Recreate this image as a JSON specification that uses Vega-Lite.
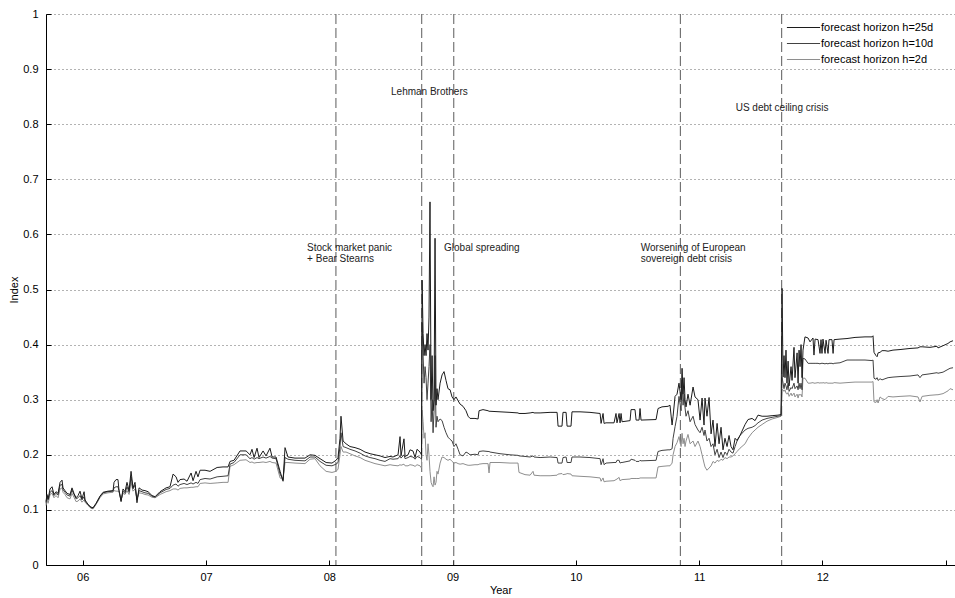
{
  "$schema": "https://vega.github.io/schema/vega-lite/v6.json",
  "width": 909,
  "height": 551,
  "autosize": {"type": "none"},
  "padding": {"left": 46, "top": 14, "right": 0, "bottom": 33},
  "background": "white",
  "config": {
    "view": {"stroke": null},
    "font": "Liberation Sans",
    "axis": {
      "domainColor": "#000",
      "tickColor": "#000",
      "labelColor": "#000",
      "titleColor": "#000",
      "labelFontSize": 11,
      "titleFontSize": 11,
      "titleFontWeight": "normal",
      "tickSize": -5,
      "domainWidth": 1,
      "tickWidth": 1
    }
  },
  "layer": [
    {
      "data": {
        "values": [
          {"t": 2008.054}, {"t": 2008.750}, {"t": 2009.010}, {"t": 2010.848}, {"t": 2011.670}
        ]
      },
      "mark": {"type": "rule", "color": "#5a5a5a", "strokeWidth": 1, "strokeDash": [10, 4]},
      "encoding": {
        "x": {"field": "t", "type": "quantitative", "title": "Year",
              "scale": {"domain": [2005.702, 2013.076], "nice": false, "zero": false}}
      }
    },
    {
      "data": {
        "values": [
          {"t":2005.702,"h25":0.115,"h10":0.112,"h2":0.108},
          {"t":2005.710,"h25":0.128,"h10":0.125,"h2":0.120},
          {"t":2005.719,"h25":0.120,"h10":0.118,"h2":0.112},
          {"t":2005.735,"h25":0.138,"h10":0.132,"h2":0.128},
          {"t":2005.751,"h25":0.142,"h10":0.135,"h2":0.130},
          {"t":2005.767,"h25":0.128,"h10":0.126,"h2":0.122},
          {"t":2005.783,"h25":0.133,"h10":0.130,"h2":0.126},
          {"t":2005.800,"h25":0.130,"h10":0.127,"h2":0.122},
          {"t":2005.816,"h25":0.150,"h10":0.145,"h2":0.138},
          {"t":2005.832,"h25":0.154,"h10":0.146,"h2":0.140},
          {"t":2005.840,"h25":0.140,"h10":0.137,"h2":0.132},
          {"t":2005.856,"h25":0.135,"h10":0.132,"h2":0.128},
          {"t":2005.873,"h25":0.130,"h10":0.127,"h2":0.122},
          {"t":2005.897,"h25":0.128,"h10":0.125,"h2":0.120},
          {"t":2005.913,"h25":0.140,"h10":0.136,"h2":0.130},
          {"t":2005.929,"h25":0.130,"h10":0.128,"h2":0.123},
          {"t":2005.946,"h25":0.122,"h10":0.120,"h2":0.115},
          {"t":2005.962,"h25":0.126,"h10":0.122,"h2":0.116},
          {"t":2005.978,"h25":0.134,"h10":0.126,"h2":0.120},
          {"t":2005.994,"h25":0.120,"h10":0.118,"h2":0.114},
          {"t":2006.011,"h25":0.133,"h10":0.124,"h2":0.118},
          {"t":2006.019,"h25":0.118,"h10":0.116,"h2":0.114},
          {"t":2006.043,"h25":0.110,"h10":0.109,"h2":0.108},
          {"t":2006.067,"h25":0.105,"h10":0.104,"h2":0.103},
          {"t":2006.084,"h25":0.104,"h10":0.103,"h2":0.102},
          {"t":2006.108,"h25":0.112,"h10":0.111,"h2":0.110},
          {"t":2006.140,"h25":0.125,"h10":0.124,"h2":0.122},
          {"t":2006.165,"h25":0.132,"h10":0.131,"h2":0.129},
          {"t":2006.205,"h25":0.134,"h10":0.133,"h2":0.131},
          {"t":2006.246,"h25":0.135,"h10":0.134,"h2":0.132},
          {"t":2006.254,"h25":0.150,"h10":0.140,"h2":0.135},
          {"t":2006.270,"h25":0.155,"h10":0.142,"h2":0.134},
          {"t":2006.286,"h25":0.155,"h10":0.142,"h2":0.134},
          {"t":2006.294,"h25":0.136,"h10":0.135,"h2":0.133},
          {"t":2006.311,"h25":0.115,"h10":0.117,"h2":0.118},
          {"t":2006.327,"h25":0.138,"h10":0.134,"h2":0.130},
          {"t":2006.343,"h25":0.133,"h10":0.130,"h2":0.128},
          {"t":2006.359,"h25":0.150,"h10":0.142,"h2":0.135},
          {"t":2006.376,"h25":0.135,"h10":0.132,"h2":0.128},
          {"t":2006.392,"h25":0.170,"h10":0.160,"h2":0.150},
          {"t":2006.408,"h25":0.140,"h10":0.138,"h2":0.134},
          {"t":2006.424,"h25":0.150,"h10":0.145,"h2":0.138},
          {"t":2006.440,"h25":0.113,"h10":0.118,"h2":0.120},
          {"t":2006.457,"h25":0.140,"h10":0.135,"h2":0.131},
          {"t":2006.481,"h25":0.136,"h10":0.133,"h2":0.130},
          {"t":2006.505,"h25":0.135,"h10":0.131,"h2":0.128},
          {"t":2006.530,"h25":0.133,"h10":0.130,"h2":0.127},
          {"t":2006.562,"h25":0.126,"h10":0.125,"h2":0.123},
          {"t":2006.587,"h25":0.124,"h10":0.123,"h2":0.122},
          {"t":2006.627,"h25":0.133,"h10":0.131,"h2":0.128},
          {"t":2006.676,"h25":0.140,"h10":0.137,"h2":0.133},
          {"t":2006.708,"h25":0.142,"h10":0.139,"h2":0.135},
          {"t":2006.733,"h25":0.165,"h10":0.145,"h2":0.138},
          {"t":2006.757,"h25":0.160,"h10":0.147,"h2":0.138},
          {"t":2006.773,"h25":0.150,"h10":0.143,"h2":0.136},
          {"t":2006.789,"h25":0.155,"h10":0.146,"h2":0.139},
          {"t":2006.822,"h25":0.156,"h10":0.148,"h2":0.140},
          {"t":2006.846,"h25":0.152,"h10":0.146,"h2":0.140},
          {"t":2006.879,"h25":0.167,"h10":0.149,"h2":0.141},
          {"t":2006.895,"h25":0.153,"h10":0.147,"h2":0.141},
          {"t":2006.919,"h25":0.170,"h10":0.150,"h2":0.142},
          {"t":2006.935,"h25":0.160,"h10":0.148,"h2":0.142},
          {"t":2006.952,"h25":0.172,"h10":0.155,"h2":0.148},
          {"t":2006.992,"h25":0.172,"h10":0.157,"h2":0.149},
          {"t":2007.033,"h25":0.170,"h10":0.156,"h2":0.148},
          {"t":2007.090,"h25":0.177,"h10":0.160,"h2":0.149},
          {"t":2007.138,"h25":0.178,"h10":0.161,"h2":0.150},
          {"t":2007.179,"h25":0.178,"h10":0.162,"h2":0.150},
          {"t":2007.195,"h25":0.188,"h10":0.183,"h2":0.179},
          {"t":2007.227,"h25":0.190,"h10":0.186,"h2":0.182},
          {"t":2007.276,"h25":0.207,"h10":0.200,"h2":0.190},
          {"t":2007.325,"h25":0.207,"h10":0.200,"h2":0.191},
          {"t":2007.357,"h25":0.200,"h10":0.193,"h2":0.186},
          {"t":2007.373,"h25":0.210,"h10":0.195,"h2":0.187},
          {"t":2007.390,"h25":0.195,"h10":0.192,"h2":0.185},
          {"t":2007.414,"h25":0.212,"h10":0.195,"h2":0.186},
          {"t":2007.430,"h25":0.195,"h10":0.193,"h2":0.186},
          {"t":2007.463,"h25":0.207,"h10":0.196,"h2":0.187},
          {"t":2007.487,"h25":0.198,"h10":0.194,"h2":0.186},
          {"t":2007.519,"h25":0.212,"h10":0.197,"h2":0.188},
          {"t":2007.536,"h25":0.196,"h10":0.194,"h2":0.186},
          {"t":2007.568,"h25":0.196,"h10":0.193,"h2":0.185},
          {"t":2007.601,"h25":0.170,"h10":0.165,"h2":0.158},
          {"t":2007.625,"h25":0.152,"h10":0.155,"h2":0.155},
          {"t":2007.641,"h25":0.213,"h10":0.195,"h2":0.186},
          {"t":2007.665,"h25":0.196,"h10":0.192,"h2":0.186},
          {"t":2007.722,"h25":0.194,"h10":0.190,"h2":0.185},
          {"t":2007.803,"h25":0.194,"h10":0.189,"h2":0.184},
          {"t":2007.844,"h25":0.200,"h10":0.196,"h2":0.192},
          {"t":2007.884,"h25":0.199,"h10":0.196,"h2":0.193},
          {"t":2007.925,"h25":0.193,"h10":0.188,"h2":0.180},
          {"t":2007.974,"h25":0.186,"h10":0.181,"h2":0.170},
          {"t":2008.022,"h25":0.185,"h10":0.180,"h2":0.168},
          {"t":2008.055,"h25":0.190,"h10":0.183,"h2":0.170},
          {"t":2008.071,"h25":0.195,"h10":0.186,"h2":0.174},
          {"t":2008.087,"h25":0.230,"h10":0.215,"h2":0.200},
          {"t":2008.095,"h25":0.270,"h10":0.240,"h2":0.215},
          {"t":2008.112,"h25":0.225,"h10":0.215,"h2":0.205},
          {"t":2008.136,"h25":0.220,"h10":0.213,"h2":0.205},
          {"t":2008.168,"h25":0.215,"h10":0.210,"h2":0.202},
          {"t":2008.209,"h25":0.213,"h10":0.207,"h2":0.198},
          {"t":2008.250,"h25":0.210,"h10":0.203,"h2":0.195},
          {"t":2008.290,"h25":0.205,"h10":0.198,"h2":0.190},
          {"t":2008.331,"h25":0.202,"h10":0.195,"h2":0.187},
          {"t":2008.371,"h25":0.200,"h10":0.193,"h2":0.184},
          {"t":2008.412,"h25":0.198,"h10":0.190,"h2":0.182},
          {"t":2008.452,"h25":0.195,"h10":0.188,"h2":0.180},
          {"t":2008.493,"h25":0.197,"h10":0.193,"h2":0.182},
          {"t":2008.517,"h25":0.196,"h10":0.192,"h2":0.181},
          {"t":2008.558,"h25":0.200,"h10":0.193,"h2":0.180},
          {"t":2008.574,"h25":0.233,"h10":0.198,"h2":0.182},
          {"t":2008.582,"h25":0.198,"h10":0.194,"h2":0.181},
          {"t":2008.606,"h25":0.229,"h10":0.200,"h2":0.183},
          {"t":2008.615,"h25":0.197,"h10":0.193,"h2":0.180},
          {"t":2008.639,"h25":0.200,"h10":0.195,"h2":0.180},
          {"t":2008.655,"h25":0.209,"h10":0.197,"h2":0.182},
          {"t":2008.679,"h25":0.207,"h10":0.196,"h2":0.181},
          {"t":2008.696,"h25":0.195,"h10":0.192,"h2":0.179},
          {"t":2008.712,"h25":0.210,"h10":0.197,"h2":0.182},
          {"t":2008.736,"h25":0.205,"h10":0.195,"h2":0.180},
          {"t":2008.748,"h25":0.200,"h10":0.192,"h2":0.176},
          {"t":2008.753,"h25":0.517,"h10":0.440,"h2":0.281},
          {"t":2008.761,"h25":0.420,"h10":0.380,"h2":0.260},
          {"t":2008.769,"h25":0.380,"h10":0.330,"h2":0.230},
          {"t":2008.777,"h25":0.400,"h10":0.360,"h2":0.240},
          {"t":2008.785,"h25":0.380,"h10":0.340,"h2":0.200},
          {"t":2008.793,"h25":0.420,"h10":0.300,"h2":0.190},
          {"t":2008.801,"h25":0.390,"h10":0.330,"h2":0.220},
          {"t":2008.809,"h25":0.450,"h10":0.360,"h2":0.200},
          {"t":2008.817,"h25":0.659,"h10":0.400,"h2":0.170},
          {"t":2008.826,"h25":0.300,"h10":0.260,"h2":0.150},
          {"t":2008.834,"h25":0.380,"h10":0.300,"h2":0.145},
          {"t":2008.842,"h25":0.280,"h10":0.240,"h2":0.142},
          {"t":2008.850,"h25":0.300,"h10":0.280,"h2":0.160},
          {"t":2008.858,"h25":0.593,"h10":0.380,"h2":0.145},
          {"t":2008.866,"h25":0.290,"h10":0.250,"h2":0.150},
          {"t":2008.874,"h25":0.320,"h10":0.270,"h2":0.170},
          {"t":2008.882,"h25":0.300,"h10":0.260,"h2":0.165},
          {"t":2008.899,"h25":0.330,"h10":0.265,"h2":0.185},
          {"t":2008.915,"h25":0.345,"h10":0.262,"h2":0.196},
          {"t":2008.931,"h25":0.351,"h10":0.250,"h2":0.195},
          {"t":2008.947,"h25":0.335,"h10":0.240,"h2":0.192},
          {"t":2008.963,"h25":0.320,"h10":0.232,"h2":0.190},
          {"t":2008.980,"h25":0.318,"h10":0.228,"h2":0.192},
          {"t":2008.996,"h25":0.305,"h10":0.225,"h2":0.188},
          {"t":2009.012,"h25":0.300,"h10":0.215,"h2":0.185},
          {"t":2009.028,"h25":0.305,"h10":0.220,"h2":0.186},
          {"t":2009.045,"h25":0.298,"h10":0.210,"h2":0.184},
          {"t":2009.061,"h25":0.292,"h10":0.200,"h2":0.183},
          {"t":2009.085,"h25":0.288,"h10":0.198,"h2":0.184},
          {"t":2009.109,"h25":0.280,"h10":0.205,"h2":0.182},
          {"t":2009.126,"h25":0.270,"h10":0.203,"h2":0.181},
          {"t":2009.142,"h25":0.266,"h10":0.200,"h2":0.181},
          {"t":2009.182,"h25":0.266,"h10":0.201,"h2":0.182},
          {"t":2009.207,"h25":0.265,"h10":0.200,"h2":0.182},
          {"t":2009.215,"h25":0.280,"h10":0.206,"h2":0.183},
          {"t":2009.247,"h25":0.282,"h10":0.207,"h2":0.184},
          {"t":2009.288,"h25":0.280,"h10":0.206,"h2":0.184},
          {"t":2009.296,"h25":0.279,"h10":0.206,"h2":0.167},
          {"t":2009.304,"h25":0.279,"h10":0.205,"h2":0.186},
          {"t":2009.385,"h25":0.278,"h10":0.202,"h2":0.186},
          {"t":2009.466,"h25":0.277,"h10":0.200,"h2":0.185},
          {"t":2009.531,"h25":0.276,"h10":0.199,"h2":0.185},
          {"t":2009.539,"h25":0.275,"h10":0.198,"h2":0.168},
          {"t":2009.588,"h25":0.275,"h10":0.197,"h2":0.164},
          {"t":2009.629,"h25":0.276,"h10":0.196,"h2":0.163},
          {"t":2009.653,"h25":0.277,"h10":0.198,"h2":0.170},
          {"t":2009.661,"h25":0.276,"h10":0.196,"h2":0.163},
          {"t":2009.710,"h25":0.276,"h10":0.195,"h2":0.162},
          {"t":2009.791,"h25":0.277,"h10":0.196,"h2":0.162},
          {"t":2009.848,"h25":0.277,"h10":0.195,"h2":0.163},
          {"t":2009.856,"h25":0.252,"h10":0.185,"h2":0.165},
          {"t":2009.888,"h25":0.252,"h10":0.185,"h2":0.166},
          {"t":2009.896,"h25":0.277,"h10":0.195,"h2":0.164},
          {"t":2009.921,"h25":0.277,"h10":0.196,"h2":0.165},
          {"t":2009.929,"h25":0.252,"h10":0.186,"h2":0.166},
          {"t":2009.961,"h25":0.252,"h10":0.186,"h2":0.165},
          {"t":2009.969,"h25":0.278,"h10":0.196,"h2":0.162},
          {"t":2010.034,"h25":0.278,"h10":0.196,"h2":0.161},
          {"t":2010.115,"h25":0.277,"h10":0.195,"h2":0.160},
          {"t":2010.197,"h25":0.275,"h10":0.193,"h2":0.158},
          {"t":2010.205,"h25":0.257,"h10":0.182,"h2":0.152},
          {"t":2010.221,"h25":0.275,"h10":0.193,"h2":0.158},
          {"t":2010.229,"h25":0.257,"h10":0.182,"h2":0.151},
          {"t":2010.245,"h25":0.258,"h10":0.185,"h2":0.152},
          {"t":2010.310,"h25":0.258,"h10":0.186,"h2":0.153},
          {"t":2010.326,"h25":0.275,"h10":0.186,"h2":0.155},
          {"t":2010.334,"h25":0.258,"h10":0.190,"h2":0.156},
          {"t":2010.351,"h25":0.275,"h10":0.190,"h2":0.159},
          {"t":2010.359,"h25":0.258,"h10":0.185,"h2":0.153},
          {"t":2010.367,"h25":0.275,"h10":0.186,"h2":0.154},
          {"t":2010.375,"h25":0.260,"h10":0.186,"h2":0.155},
          {"t":2010.440,"h25":0.262,"h10":0.189,"h2":0.156},
          {"t":2010.448,"h25":0.282,"h10":0.192,"h2":0.157},
          {"t":2010.480,"h25":0.282,"h10":0.190,"h2":0.157},
          {"t":2010.489,"h25":0.263,"h10":0.188,"h2":0.157},
          {"t":2010.513,"h25":0.263,"h10":0.188,"h2":0.157},
          {"t":2010.521,"h25":0.284,"h10":0.190,"h2":0.158},
          {"t":2010.529,"h25":0.263,"h10":0.189,"h2":0.158},
          {"t":2010.651,"h25":0.264,"h10":0.190,"h2":0.158},
          {"t":2010.667,"h25":0.284,"h10":0.206,"h2":0.178},
          {"t":2010.699,"h25":0.287,"h10":0.208,"h2":0.179},
          {"t":2010.748,"h25":0.288,"h10":0.209,"h2":0.180},
          {"t":2010.764,"h25":0.290,"h10":0.209,"h2":0.180},
          {"t":2010.781,"h25":0.254,"h10":0.211,"h2":0.185},
          {"t":2010.789,"h25":0.270,"h10":0.230,"h2":0.200},
          {"t":2010.805,"h25":0.306,"h10":0.251,"h2":0.215},
          {"t":2010.821,"h25":0.310,"h10":0.270,"h2":0.222},
          {"t":2010.837,"h25":0.330,"h10":0.306,"h2":0.233},
          {"t":2010.854,"h25":0.300,"h10":0.280,"h2":0.215},
          {"t":2010.862,"h25":0.357,"h10":0.336,"h2":0.239},
          {"t":2010.870,"h25":0.310,"h10":0.290,"h2":0.220},
          {"t":2010.878,"h25":0.340,"h10":0.310,"h2":0.230},
          {"t":2010.886,"h25":0.300,"h10":0.285,"h2":0.215},
          {"t":2010.894,"h25":0.287,"h10":0.270,"h2":0.225},
          {"t":2010.910,"h25":0.310,"h10":0.280,"h2":0.237},
          {"t":2010.927,"h25":0.290,"h10":0.260,"h2":0.220},
          {"t":2010.951,"h25":0.323,"h10":0.270,"h2":0.225},
          {"t":2010.967,"h25":0.305,"h10":0.255,"h2":0.215},
          {"t":2010.991,"h25":0.300,"h10":0.245,"h2":0.225},
          {"t":2011.008,"h25":0.263,"h10":0.240,"h2":0.215},
          {"t":2011.024,"h25":0.303,"h10":0.250,"h2":0.200},
          {"t":2011.040,"h25":0.254,"h10":0.235,"h2":0.185},
          {"t":2011.048,"h25":0.303,"h10":0.245,"h2":0.178},
          {"t":2011.064,"h25":0.270,"h10":0.225,"h2":0.172},
          {"t":2011.081,"h25":0.304,"h10":0.230,"h2":0.176},
          {"t":2011.097,"h25":0.238,"h10":0.215,"h2":0.180},
          {"t":2011.113,"h25":0.263,"h10":0.220,"h2":0.188},
          {"t":2011.129,"h25":0.215,"h10":0.200,"h2":0.185},
          {"t":2011.146,"h25":0.257,"h10":0.210,"h2":0.190},
          {"t":2011.162,"h25":0.220,"h10":0.195,"h2":0.188},
          {"t":2011.178,"h25":0.250,"h10":0.205,"h2":0.192},
          {"t":2011.194,"h25":0.209,"h10":0.195,"h2":0.190},
          {"t":2011.210,"h25":0.230,"h10":0.205,"h2":0.195},
          {"t":2011.227,"h25":0.215,"h10":0.200,"h2":0.193},
          {"t":2011.243,"h25":0.235,"h10":0.210,"h2":0.196},
          {"t":2011.259,"h25":0.215,"h10":0.205,"h2":0.196},
          {"t":2011.275,"h25":0.209,"h10":0.203,"h2":0.198},
          {"t":2011.292,"h25":0.230,"h10":0.215,"h2":0.202},
          {"t":2011.308,"h25":0.226,"h10":0.225,"h2":0.206},
          {"t":2011.332,"h25":0.235,"h10":0.235,"h2":0.212},
          {"t":2011.373,"h25":0.255,"h10":0.245,"h2":0.220},
          {"t":2011.397,"h25":0.264,"h10":0.248,"h2":0.230},
          {"t":2011.430,"h25":0.266,"h10":0.250,"h2":0.240},
          {"t":2011.454,"h25":0.262,"h10":0.253,"h2":0.245},
          {"t":2011.478,"h25":0.272,"h10":0.258,"h2":0.250},
          {"t":2011.511,"h25":0.270,"h10":0.263,"h2":0.255},
          {"t":2011.551,"h25":0.270,"h10":0.266,"h2":0.261},
          {"t":2011.592,"h25":0.271,"h10":0.268,"h2":0.265},
          {"t":2011.640,"h25":0.272,"h10":0.270,"h2":0.268},
          {"t":2011.665,"h25":0.273,"h10":0.271,"h2":0.270},
          {"t":2011.673,"h25":0.502,"h10":0.341,"h2":0.318},
          {"t":2011.681,"h25":0.341,"h10":0.330,"h2":0.318},
          {"t":2011.689,"h25":0.380,"h10":0.320,"h2":0.315},
          {"t":2011.697,"h25":0.340,"h10":0.330,"h2":0.318},
          {"t":2011.705,"h25":0.390,"h10":0.325,"h2":0.312},
          {"t":2011.713,"h25":0.330,"h10":0.318,"h2":0.310},
          {"t":2011.722,"h25":0.370,"h10":0.330,"h2":0.313},
          {"t":2011.730,"h25":0.325,"h10":0.315,"h2":0.306},
          {"t":2011.746,"h25":0.360,"h10":0.322,"h2":0.312},
          {"t":2011.754,"h25":0.335,"h10":0.320,"h2":0.307},
          {"t":2011.770,"h25":0.395,"h10":0.330,"h2":0.312},
          {"t":2011.778,"h25":0.340,"h10":0.320,"h2":0.305},
          {"t":2011.795,"h25":0.385,"h10":0.325,"h2":0.310},
          {"t":2011.803,"h25":0.330,"h10":0.318,"h2":0.303},
          {"t":2011.811,"h25":0.390,"h10":0.330,"h2":0.310},
          {"t":2011.819,"h25":0.360,"h10":0.320,"h2":0.308},
          {"t":2011.827,"h25":0.400,"h10":0.330,"h2":0.310},
          {"t":2011.835,"h25":0.340,"h10":0.318,"h2":0.305},
          {"t":2011.843,"h25":0.390,"h10":0.375,"h2":0.339},
          {"t":2011.859,"h25":0.414,"h10":0.374,"h2":0.339},
          {"t":2011.884,"h25":0.412,"h10":0.366,"h2":0.330},
          {"t":2011.900,"h25":0.405,"h10":0.366,"h2":0.330},
          {"t":2011.924,"h25":0.412,"h10":0.366,"h2":0.331},
          {"t":2011.932,"h25":0.381,"h10":0.366,"h2":0.330},
          {"t":2011.941,"h25":0.410,"h10":0.366,"h2":0.330},
          {"t":2011.965,"h25":0.409,"h10":0.366,"h2":0.331},
          {"t":2011.981,"h25":0.384,"h10":0.365,"h2":0.330},
          {"t":2011.989,"h25":0.409,"h10":0.366,"h2":0.331},
          {"t":2011.997,"h25":0.384,"h10":0.366,"h2":0.330},
          {"t":2012.005,"h25":0.410,"h10":0.366,"h2":0.331},
          {"t":2012.022,"h25":0.384,"h10":0.365,"h2":0.330},
          {"t":2012.030,"h25":0.408,"h10":0.366,"h2":0.331},
          {"t":2012.046,"h25":0.384,"h10":0.365,"h2":0.330},
          {"t":2012.054,"h25":0.409,"h10":0.366,"h2":0.330},
          {"t":2012.078,"h25":0.409,"h10":0.366,"h2":0.330},
          {"t":2012.087,"h25":0.384,"h10":0.365,"h2":0.330},
          {"t":2012.095,"h25":0.409,"h10":0.366,"h2":0.331},
          {"t":2012.143,"h25":0.410,"h10":0.367,"h2":0.330},
          {"t":2012.200,"h25":0.411,"h10":0.372,"h2":0.331},
          {"t":2012.265,"h25":0.413,"h10":0.372,"h2":0.332},
          {"t":2012.346,"h25":0.414,"h10":0.372,"h2":0.332},
          {"t":2012.403,"h25":0.414,"h10":0.371,"h2":0.332},
          {"t":2012.411,"h25":0.416,"h10":0.372,"h2":0.333},
          {"t":2012.419,"h25":0.386,"h10":0.339,"h2":0.296},
          {"t":2012.435,"h25":0.380,"h10":0.337,"h2":0.295},
          {"t":2012.444,"h25":0.378,"h10":0.340,"h2":0.300},
          {"t":2012.452,"h25":0.385,"h10":0.335,"h2":0.294},
          {"t":2012.468,"h25":0.386,"h10":0.338,"h2":0.305},
          {"t":2012.484,"h25":0.389,"h10":0.336,"h2":0.302},
          {"t":2012.508,"h25":0.389,"h10":0.338,"h2":0.300},
          {"t":2012.533,"h25":0.388,"h10":0.340,"h2":0.306},
          {"t":2012.573,"h25":0.390,"h10":0.341,"h2":0.305},
          {"t":2012.630,"h25":0.391,"h10":0.342,"h2":0.306},
          {"t":2012.711,"h25":0.393,"h10":0.343,"h2":0.307},
          {"t":2012.776,"h25":0.394,"h10":0.345,"h2":0.305},
          {"t":2012.792,"h25":0.396,"h10":0.340,"h2":0.296},
          {"t":2012.809,"h25":0.396,"h10":0.345,"h2":0.306},
          {"t":2012.873,"h25":0.395,"h10":0.347,"h2":0.308},
          {"t":2012.930,"h25":0.397,"h10":0.349,"h2":0.309},
          {"t":2012.938,"h25":0.394,"h10":0.348,"h2":0.309},
          {"t":2012.979,"h25":0.398,"h10":0.350,"h2":0.311},
          {"t":2013.019,"h25":0.402,"h10":0.355,"h2":0.316},
          {"t":2013.036,"h25":0.405,"h10":0.357,"h2":0.320},
          {"t":2013.060,"h25":0.407,"h10":0.358,"h2":0.318}
        ]
      },
      "transform": [
        {"fold": ["h2", "h10", "h25"], "as": ["horizon", "v"]}
      ],
      "mark": {"type": "line", "strokeWidth": 1, "interpolate": "linear"},
      "encoding": {
        "x": {
          "field": "t", "type": "quantitative", "title": "Year",
          "scale": {"domain": [2005.702, 2013.076], "nice": false, "zero": false},
          "axis": {
            "values": [2006, 2007, 2008, 2009, 2010, 2011, 2012, 2013],
            "labelExpr": "datum.value == 2013 ? '' : substring(toString(datum.value), 2, 4)",
            "grid": false,
            "labelPadding": 11,
            "titlePadding": 2
          }
        },
        "y": {
          "field": "v", "type": "quantitative", "title": "Index",
          "scale": {"domain": [0, 1], "nice": false, "zero": true},
          "axis": {
            "values": [0, 0.1, 0.2, 0.3, 0.4, 0.5, 0.6, 0.7, 0.8, 0.9, 1],
            "format": ".1~f",
            "grid": true,
            "gridColor": "#666",
            "gridDash": [1, 3],
            "gridWidth": 1,
            "labelPadding": 13,
            "titlePadding": 3
          }
        },
        "color": {
          "field": "horizon", "type": "nominal",
          "scale": {"domain": ["h25", "h10", "h2"], "range": ["#1c1c1c", "#424242", "#8e8e8e"]},
          "legend": {
            "title": null,
            "orient": "none",
            "legendX": 752,
            "legendY": 8,
            "padding": 0,
            "symbolType": "M-5,0H5",
            "symbolSize": 44,
            "symbolStrokeWidth": 1,
            "labelOffset": 12,
            "labelFontSize": 11,
            "labelColor": "#000",
            "rowPadding": 4,
            "labelExpr": "'forecast horizon h=' + substring(datum.label, 1) + 'd'"
          }
        },
        "order": {"field": "horizon", "type": "nominal"}
      }
    },
    {
      "data": {
        "values": [
          {"t": 2007.820, "v": 0.585, "label": "Stock market panic\n+ Bear Stearns"},
          {"t": 2008.501, "v": 0.868, "label": "Lehman Brothers"},
          {"t": 2008.931, "v": 0.585, "label": "Global spreading"},
          {"t": 2010.527, "v": 0.585, "label": "Worsening of European\nsovereign debt crisis"},
          {"t": 2011.297, "v": 0.838, "label": "US debt ceiling crisis"}
        ]
      },
      "mark": {"type": "text", "align": "left", "baseline": "top", "fontSize": 10, "lineHeight": 11, "lineBreak": "\n", "color": "#222"},
      "encoding": {
        "x": {"field": "t", "type": "quantitative", "title": "Year"},
        "y": {"field": "v", "type": "quantitative", "title": "Index"},
        "text": {"field": "label", "type": "nominal"}
      }
    }
  ]
}
